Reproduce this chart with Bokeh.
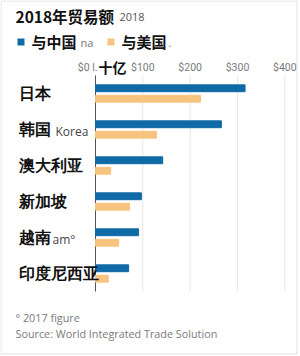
from bokeh.plotting import figure
from bokeh.models import Range1d, ColumnDataSource, LabelSet, Label, BoxAnnotation
from bokeh.core.properties import value
from bokeh.embed import file_html
from bokeh.resources import INLINE

# ---- data ----
countries = ["日本", "韩国", "澳大利亚", "新加坡", "越南", "印度尼西亚"]
suffixes = ["", "Korea", "\u00b7e", "", "am\u00b0", ""]
china = [316, 266, 142, 97, 91, 70]
usa = [222, 129, 32, 72, 49, 27]
tick_values = [0, 100, 200, 300, 400]
tick_labels = ["$0 l.", "$100", "$200", "$300", "$400"]
unit_label = "十亿"
title = "2018年贸易额"
title_suffix = "2018"
series_names = ["与中国", "与美国"]
series_suffix = ["na", "."]
notes = ["\u00b0 2017 figure", "Source: World Integrated Trade Solution"]

BLUE = "#0f6aa6"
ORANGE = "#f7c47f"
W, H = 300, 356
FL, FT, GROUP = 95, 75, 36.0      # zero-line x, top of bars area, px per country
PX = 0.4733                        # px per $1bn
n = len(countries)
FB = FT + GROUP * n


def sx(cx):
    return cx


def sy(cy):
    return H - cy


pos = [n - 0.5 - i for i in range(n)]  # group centre, top to bottom

src = ColumnDataSource(dict(
    country=countries, suffix=suffixes, china=china, usa=usa,
    yc=[v + 0.145 for v in pos], yu=[v - 0.145 for v in pos], y=pos,
))

x_range = Range1d(-FL / PX, (W - FL) / PX)
y_range = Range1d(-(H - FB) / GROUP, n + FT / GROUP)

p = figure(width=W, height=H, x_range=x_range, y_range=y_range,
           output_backend="svg", toolbar_location=None,
           x_axis_location=None, y_axis_location=None,
           min_border=0)
p.outline_line_color = None
p.background_fill_color = "white"
p.border_fill_color = "white"
p.grid.visible = False

# grid lines and zero line
p.segment(x0=tick_values[1:], x1=tick_values[1:], y0=0, y1=n, line_color="#e8e8e8", line_width=1)
p.segment(x0=[0], x1=[0], y0=[0], y1=[n], line_color="#555555", line_width=1)

p.hbar(y="yc", right="china", left=0, height=0.19, color=BLUE, source=src)
p.hbar(y="yu", right="usa", left=0, height=0.19, color=ORANGE, source=src)

# tick labels
p.text(x=tick_values[1:], y=[n] * 4, text=tick_labels[1:], y_offset=-8,
       text_align="center", text_baseline="middle", text_color="#7a7a7a",
       text_font=value("Roboto"), text_font_size="10.5px")
p.text(x=[0], y=[n], text=[tick_labels[0]], y_offset=-8, x_offset=2,
       text_align="right", text_baseline="middle", text_color="#7a7a7a",
       text_font=value("Roboto"), text_font_size="10.5px")
p.add_layout(Label(x=sx(98), y=sy(66), x_units="screen", y_units="screen", text=unit_label,
                   text_baseline="middle", text_color="#111111", text_font="Noto Sans CJK SC",
                   text_font_style="bold", text_font_size="14px"))

# country labels
p.add_layout(LabelSet(x=sx(18), y="y", x_units="screen", text="country", source=src,
                      text_baseline="middle", text_color="#111111", text_font="Noto Sans CJK SC",
                      text_font_style="bold", text_font_size="16px"))
suffix_x = [0, 55, 68, 0, 52, 0]
for i, s in enumerate(suffixes):
    if s:
        p.add_layout(Label(x=sx(suffix_x[i]), y=pos[i], x_units="screen", y_units="data", text=s,
                           y_offset=-2, text_baseline="middle", text_color="#444444",
                           text_font="Open Sans", text_font_size="12px"))

# title
p.add_layout(Label(x=sx(15), y=sy(15), x_units="screen", y_units="screen", text=title,
                   text_baseline="middle", text_color="#111111", text_font="Noto Sans CJK SC",
                   text_font_style="bold", text_font_size="15.5px"))
p.add_layout(Label(x=sx(119), y=sy(16), x_units="screen", y_units="screen", text=title_suffix,
                   text_baseline="middle", text_color="#555555", text_font="Open Sans",
                   text_font_size="11px"))

# legend
for xs, col, name, suf, sfx in [(17, BLUE, series_names[0], series_suffix[0], 80),
                                (107, ORANGE, series_names[1], series_suffix[1], 168)]:
    p.add_layout(BoxAnnotation(left=sx(xs), right=sx(xs + 7), top=sy(38), bottom=sy(45),
                               left_units="screen", right_units="screen",
                               top_units="screen", bottom_units="screen",
                               fill_color=col, fill_alpha=1, line_color=None))
    p.add_layout(Label(x=sx(xs + 14), y=sy(41), x_units="screen", y_units="screen", text=name,
                       text_baseline="middle", text_color="#111111", text_font="Noto Sans CJK SC",
                       text_font_style="bold", text_font_size="15px"))
    p.add_layout(Label(x=sx(sfx), y=sy(42), x_units="screen", y_units="screen", text=suf,
                       text_baseline="middle", text_color="#777777", text_font="Open Sans",
                       text_font_size="11px"))

# notes
for k, t in enumerate(notes):
    p.add_layout(Label(x=sx(15), y=sy(317 + 16 * k), x_units="screen", y_units="screen", text=t,
                       text_baseline="middle", text_color="#7a7a7a", text_font="Open Sans",
                       text_font_size="10.8px"))

# image border
p.add_layout(BoxAnnotation(left=sx(0.5), right=sx(W - 3.5), top=sy(0.5), bottom=sy(H - 2.5),
                           left_units="screen", right_units="screen",
                           top_units="screen", bottom_units="screen",
                           fill_alpha=0, line_color="#999999", line_width=1))

open("out.html", "w").write(file_html(p, INLINE))
